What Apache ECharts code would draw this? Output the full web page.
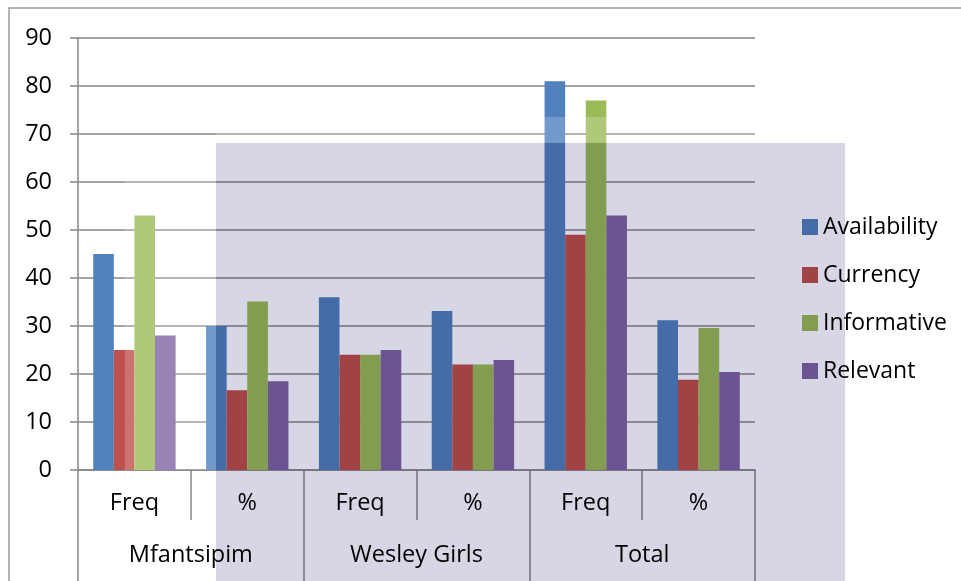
<!DOCTYPE html>
<html><head><meta charset="utf-8">
<script src="https://cdn.jsdelivr.net/npm/echarts@6/dist/echarts.min.js"></script>
<style>html,body{margin:0;padding:0;background:#fff}#c{width:961px;height:581px}</style>
</head><body><div id="c"></div>
<script>
var subCategories = ['Freq', '%', 'Freq', '%', 'Freq', '%'];
var groups = ['Mfantsipim', 'Wesley Girls', 'Total'];
var seriesNames = ['Availability', 'Currency', 'Informative', 'Relevant'];
var availability = [45, 30, 36, 33.1, 81, 31.2];
var currency = [25, 16.6, 24, 22, 49, 18.8];
var informative = [53, 35.1, 24, 22, 77, 29.6];
var relevant = [28, 18.5, 25, 22.9, 53, 20.4];
var yTicks = {min: 0, max: 90, interval: 10};
var colors = ['#4F81BD', '#C0504D', '#9BBB59', '#8064A2'];

var FONT = 'Open Sans';
var FS = 23.5;
var chart = echarts.init(document.getElementById('c'), null, {renderer: 'canvas'});
var values = [availability, currency, informative, relevant];
var series = seriesNames.map(function (n, i) {
  return {name: n, type: 'bar', data: values[i], barGap: '0%', barCategoryGap: '27%',
    itemStyle: {color: colors[i]}, z: 2};
});
chart.setOption({
  animation: false,
  backgroundColor: '#fff',
  color: colors,
  grid: {left: 78, right: 206, top: 38, bottom: 111, containLabel: false},
  legend: {
    orient: 'vertical', left: 797, top: 210, itemWidth: 16, itemHeight: 16, itemGap: 24,
    itemTextGap: 5, icon: 'rect',
    textStyle: {fontFamily: FONT, fontSize: 23, color: '#000', lineHeight: 24},
    data: seriesNames
  },
  xAxis: [{
    type: 'category', data: subCategories, position: 'bottom',
    axisLine: {show: true, lineStyle: {color: '#868686', width: 1.5}},
    axisTick: {show: true, length: 50, alignWithLabel: false, lineStyle: {color: '#868686', width: 1.5}},
    axisLabel: {fontFamily: FONT, fontSize: FS, color: '#000', margin: 21, interval: 0}
  }, {
    type: 'category', data: groups, position: 'bottom', gridIndex: 0,
    axisLine: {show: false},
    axisTick: {show: true, length: 111, lineStyle: {color: '#868686', width: 1.5}},
    axisLabel: {fontFamily: FONT, fontSize: FS, color: '#000', margin: 73, interval: 0}
  }],
  yAxis: {
    type: 'value', min: yTicks.min, max: yTicks.max, interval: yTicks.interval,
    axisLine: {show: true, lineStyle: {color: '#868686', width: 1.5}},
    axisTick: {show: true, length: 8, lineStyle: {color: '#868686', width: 1.5}},
    splitLine: {show: true, lineStyle: {color: '#868686', width: 1.5}},
    axisLabel: {fontFamily: FONT, fontSize: FS, color: '#000', margin: 26}
  },
  series: series,
  graphic: [
    {type: 'rect', z: 100, silent: true, shape: {x: 125, y: 140, width: 91, height: 330},
      style: {fill: 'rgba(255,255,255,0.2)'}},
    {type: 'rect', z: 100, silent: true, shape: {x: 216, y: 117, width: 629, height: 26},
      style: {fill: 'rgba(255,255,255,0.2)'}},
    {type: 'rect', z: 101, silent: true, shape: {x: 216, y: 143, width: 629, height: 450},
      style: {fill: '#d6d6e4', blend: 'multiply'}},
    {type: 'rect', z: 102, silent: true, shape: {x: 9, y: 8, width: 1200, height: 1200},
      style: {fill: 'none', stroke: '#9a9a9a', lineWidth: 1.5}}
  ]
});
</script></body></html>
